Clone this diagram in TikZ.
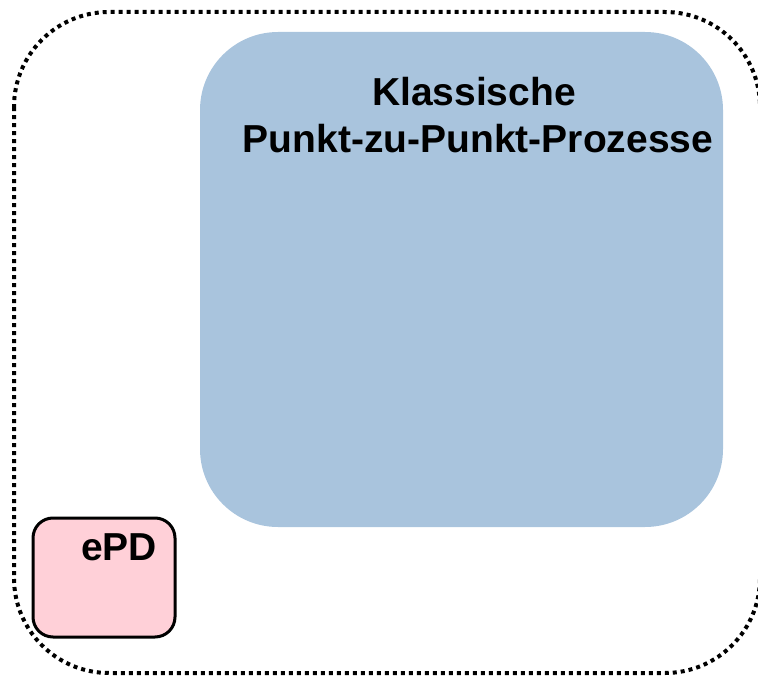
\documentclass[tikz,border=0pt]{standalone}
\usepackage{fontspec}
\setmainfont{Liberation Sans}
\definecolor{boxblue}{HTML}{A9C4DD}
\definecolor{boxpink}{HTML}{FFD0D8}
\begin{document}
\begin{tikzpicture}[x=1pt,y=-1pt,
  frame/.style={draw=black, line width=4pt, dash pattern=on 4pt off 4pt, rounded corners=95pt},
  bigbox/.style={fill=boxblue, rounded corners=78pt},
  smallbox/.style={fill=boxpink, draw=black, line width=3pt, rounded corners=20pt},
  title/.style={font=\bfseries\fontsize{39}{46}\selectfont, inner sep=0pt, anchor=base}]
  \useasboundingbox (0,0) rectangle (758,677);
  % outer dotted frame
  \draw[frame] (14,12) rectangle (760,673);
  % large process area with its two-line heading
  \fill[bigbox] (200,32) rectangle (723,527);
  \node[title] (klass) at (474,105) {Klassische};
  \node[title] (p2p) at (478,152) {Punkt-zu-Punkt-Prozesse};
  % small ePD box
  \filldraw[smallbox] (33,518) rectangle (175,637);
  \node[title] (epd) at (119,560) {ePD};
\end{tikzpicture}
\end{document}
